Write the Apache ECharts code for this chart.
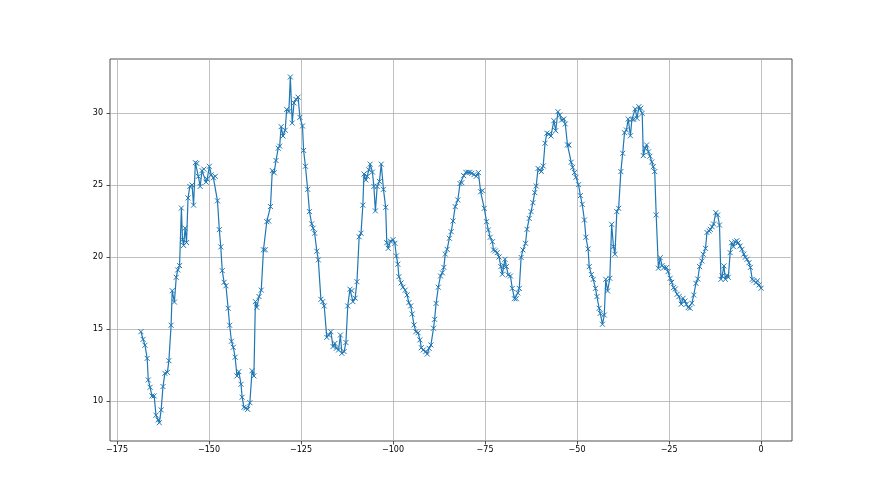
<!DOCTYPE html>
<html>
<head>
<meta charset="utf-8">
<script src="https://cdn.jsdelivr.net/npm/echarts@6/dist/echarts.min.js"></script>
<style>html,body{margin:0;padding:0;background:#fff}#c{width:880px;height:495px}</style>
</head>
<body>
<div id="c"></div>
<script>
const xValues = [-168.5,-167.9,-167.4,-166.8,-166.5,-166.0,-165.5,-164.9,-164.4,-163.8,-163.5,-163.0,-162.5,-162.0,-161.3,-160.9,-160.3,-160.0,-159.4,-158.9,-158.5,-158.0,-157.5,-157.2,-156.9,-156.5,-156.1,-155.7,-155.2,-154.6,-154.2,-153.7,-153.3,-152.9,-152.4,-151.9,-151.4,-150.8,-150.5,-149.9,-149.4,-148.8,-148.3,-147.7,-147.2,-146.8,-146.4,-145.9,-145.4,-144.8,-144.4,-143.9,-143.4,-142.9,-142.4,-141.9,-141.3,-141.0,-140.5,-140.0,-139.5,-138.9,-138.3,-137.8,-137.4,-137.0,-136.4,-135.8,-135.2,-134.7,-134.3,-133.8,-133.3,-132.8,-132.3,-131.8,-131.2,-130.8,-130.4,-129.9,-129.3,-128.9,-128.3,-127.9,-127.4,-126.9,-126.4,-125.8,-125.3,-124.6,-124.3,-123.8,-123.2,-122.7,-122.1,-121.7,-121.3,-120.7,-120.3,-119.6,-119.1,-118.7,-118.0,-117.5,-116.9,-116.3,-115.8,-115.4,-114.8,-114.3,-113.9,-113.3,-112.8,-112.3,-111.7,-111.2,-110.9,-110.3,-109.8,-109.2,-108.7,-108.2,-107.9,-107.4,-107.0,-106.6,-106.2,-105.6,-105.2,-104.8,-104.3,-103.7,-103.2,-102.6,-102.0,-101.7,-101.3,-100.7,-100.0,-99.5,-99.1,-98.7,-98.4,-97.8,-97.3,-96.7,-96.2,-95.7,-95.2,-94.8,-94.3,-93.8,-93.2,-92.7,-92.3,-91.8,-91.1,-90.7,-90.2,-89.7,-89.0,-88.7,-88.3,-87.7,-87.1,-86.6,-86.2,-85.8,-85.3,-84.7,-84.2,-83.7,-83.1,-82.4,-81.8,-81.3,-80.8,-80.2,-79.6,-79.1,-78.6,-78.0,-77.4,-76.8,-76.2,-75.7,-75.2,-74.6,-74.1,-73.6,-73.0,-72.7,-72.2,-71.7,-71.2,-70.7,-70.3,-69.9,-69.6,-69.2,-68.7,-68.1,-67.6,-67.0,-66.5,-66.1,-65.7,-65.2,-64.7,-64.0,-63.6,-63.0,-62.5,-62.0,-61.5,-61.1,-60.6,-60.1,-59.7,-59.2,-58.7,-58.2,-57.6,-57.1,-56.3,-55.8,-55.2,-54.7,-54.2,-53.6,-53.2,-52.6,-52.2,-51.6,-51.2,-50.7,-50.3,-49.6,-49.1,-48.6,-48.0,-47.6,-47.0,-46.7,-46.1,-45.6,-45.0,-44.6,-44.0,-43.7,-43.1,-42.6,-42.2,-41.7,-41.1,-40.6,-40.1,-39.7,-39.2,-38.7,-38.1,-37.6,-37.1,-36.6,-36.1,-35.5,-35.1,-34.6,-34.2,-33.7,-33.2,-32.7,-32.3,-32.0,-31.5,-31.1,-30.6,-30.2,-29.7,-29.3,-28.9,-28.5,-27.9,-27.4,-26.9,-26.4,-25.7,-25.3,-24.7,-24.3,-23.8,-23.3,-22.8,-22.3,-21.7,-21.2,-20.7,-20.3,-19.8,-19.3,-18.8,-18.3,-17.7,-17.2,-16.7,-16.1,-15.7,-15.1,-14.7,-14.1,-13.8,-13.3,-12.9,-12.3,-11.8,-11.3,-10.9,-10.6,-10.1,-9.7,-9.3,-8.9,-8.4,-8.0,-7.5,-7.1,-6.6,-6.2,-5.7,-5.2,-4.7,-4.3,-3.8,-3.3,-2.9,-2.4,-2.0,-1.4,-1.0,-0.5,0];
const yValues = [14.81,14.28,13.87,12.96,11.46,10.95,10.35,10.35,9.01,8.68,8.49,9.38,11.0,11.92,11.99,12.8,15.26,17.66,16.87,18.59,19.1,19.4,23.4,21.2,20.8,22.0,21.0,24.1,24.9,25.0,23.6,26.55,26.5,25.6,24.9,26.0,26.1,25.2,25.4,26.3,25.7,25.5,25.6,23.9,21.9,20.7,19.05,18.24,18.0,16.44,15.26,14.15,13.73,13.04,11.74,12.04,11.16,10.26,9.56,9.51,9.42,9.88,12.1,11.74,16.9,16.5,17.25,17.7,20.5,20.5,22.45,22.5,23.5,26.0,25.85,26.7,27.55,27.7,29.05,28.4,28.8,30.25,30.1,32.5,29.3,30.7,30.95,31.1,29.7,29.1,27.4,26.3,24.7,23.15,22.3,22.0,21.65,20.4,19.8,17.06,16.9,16.6,14.42,14.58,14.81,13.78,14.0,13.66,13.54,14.58,13.31,13.43,14.06,16.6,17.76,17.66,16.9,17.14,18.28,21.4,21.65,23.6,25.76,25.35,25.6,26.05,26.45,25.9,24.9,23.2,24.9,25.25,26.45,24.7,23.45,20.99,20.6,21.1,21.2,20.95,20.07,19.5,18.63,18.2,17.9,17.7,17.36,16.83,16.6,16.04,15.28,14.81,14.74,14.24,13.7,13.54,13.43,13.26,13.66,13.89,15.05,15.67,16.78,17.9,18.68,18.9,19.28,20.2,20.53,21.3,21.76,22.5,23.5,23.96,25.1,25.16,25.65,25.88,25.88,25.88,25.81,25.72,25.6,25.86,24.53,24.6,23.38,22.45,21.88,21.37,21.06,20.49,20.42,20.3,20.0,19.33,18.8,19.4,19.84,19.33,18.75,18.68,17.82,17.1,17.1,17.5,17.82,19.97,20.49,20.95,21.92,22.68,23.15,23.77,24.47,24.93,26.15,26.04,25.93,26.32,27.9,28.6,28.54,28.4,29.47,28.77,30.09,29.86,29.51,29.58,29.24,27.78,27.78,26.58,26.23,25.86,25.53,25.02,24.26,23.66,22.57,21.37,20.56,19.33,18.78,18.45,17.82,17.25,16.44,16.09,15.33,15.97,18.45,17.64,18.52,22.27,20.71,20.19,23.15,23.38,25.93,27.2,28.63,28.82,29.58,28.42,29.56,29.56,30.28,29.63,30.44,30.33,29.98,27.04,27.55,27.78,27.3,27.0,26.6,26.27,25.93,22.92,19.22,19.95,19.4,19.26,19.26,18.98,18.52,18.24,17.87,17.78,17.41,17.25,16.72,17.13,16.94,16.72,16.49,16.44,16.79,17.36,18.17,18.47,19.33,19.72,20.19,20.6,21.7,21.8,21.92,22.1,22.29,23.08,22.92,22.22,18.45,18.68,19.38,18.45,18.73,18.59,20.3,20.99,20.71,21.06,21.13,20.99,20.76,20.53,20.2,19.98,19.84,19.6,19.28,18.45,18.35,18.22,18.35,18.06,17.83];
const xTicks = [-175,-150,-125,-100,-75,-50,-25,0];
const yTicks = [10,15,20,25,30];

const data = xValues.map((x,i)=>[x,yValues[i]]);
const fmt = v => v < 0 ? '\u2212' + Math.abs(v) : String(v);
const lbl = {color:'#000', fontFamily:'DejaVu Sans', fontSize:8};
const chart = echarts.init(document.getElementById('c'), null, {renderer:'canvas'});
chart.setOption({
  animation:false,
  grid:{left:110,right:88,top:59,bottom:54,show:true,borderColor:'#262626',borderWidth:0.8,backgroundColor:'transparent'},
  xAxis:{type:'value',min:-176.9,max:8.4,position:'bottom',
    axisLine:{show:false,onZero:false},
    axisTick:{show:true,length:3.5,lineStyle:{color:'#262626',width:0.8},customValues:xTicks},
    axisLabel:Object.assign({margin:5,formatter:fmt,customValues:xTicks,showMinLabel:true,showMaxLabel:true},lbl),
    splitLine:{show:true,lineStyle:{color:'#b0b0b0',width:0.8}}},
  yAxis:{type:'value',min:7.22,max:33.75,position:'left',
    axisLine:{show:false,onZero:false},
    axisTick:{show:true,length:3.5,lineStyle:{color:'#262626',width:0.8},customValues:yTicks},
    axisLabel:Object.assign({margin:7,formatter:fmt,customValues:yTicks},lbl),
    splitLine:{show:true,lineStyle:{color:'#b0b0b0',width:0.8}}},
  series:[{type:'line',data:data,
    lineStyle:{color:'#1f77b4',width:1.2},
    symbol:'path://M0 0 L10 10 M10 0 L0 10',symbolSize:5,showAllSymbol:true,
    itemStyle:{color:'rgba(0,0,0,0)',borderColor:'#1f77b4',borderWidth:1},
    emphasis:{disabled:true}}]
});
</script>
</body>
</html>
